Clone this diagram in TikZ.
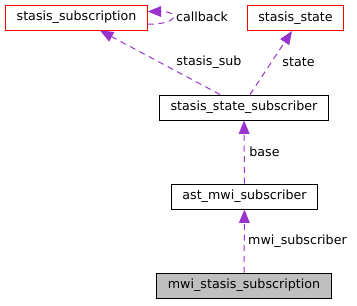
\documentclass[tikz,border=0pt]{standalone}
\usepackage{fontspec}
\setmainfont{DejaVu Sans}
\usetikzlibrary{arrows.meta}
\definecolor{edgepurple}{HTML}{9A32CD}
\tikzset{
    base/.style={draw, rectangle, line width=0.75pt, minimum height=18.75pt, inner xsep=8.2pt, font=\fontsize{9.5}{11}\selectfont},
    redbase/.style={base, draw=red},
    dep/.style={draw=edgepurple, line width=0.75pt, dash pattern=on 4.5pt off 3.5pt, -{Triangle[length=10pt, width=8pt]}},
    lbl/.style={inner sep=0pt, font=\fontsize{9.5}{11}\selectfont}
}

\begin{document}
\begin{tikzpicture}[x=0.75pt, y=-0.75pt]
\useasboundingbox (0,0) rectangle (357,305);
% structs
\node[redbase] (ss) at (76.5,17.5) {stasis\_subscription};
\node[redbase] (st) at (295.5,18) {stasis\_state};
\node[base] (sss) at (244,107.5) {stasis\_state\_subscriber};
\node[base] (ams) at (244.5,196.5) {ast\_mwi\_subscriber};
\node[base, fill=black!25] (mss) at (244,285.5) {mwi\_stasis\_subscription};
% member labels
\node[lbl] (lcb) at (202,17) {callback};
\node[lbl] (lsub) at (209,62) {stasis\_sub};
\node[lbl] (lstate) at (298.5,62) {state};
\node[lbl] (lbase) at (264.5,152) {base};
\node[lbl] (lmwi) at (297.5,241) {mwi\_subscriber};
% usage edges
\draw[dep] ([yshift=-5pt]ss.east) .. controls +(32,0) and +(32,0) .. ([yshift=4.5pt]ss.east);
\draw[dep] ([xshift=-18pt]sss.north) -- (ss.south -| 100,0);
\draw[dep] ([xshift=4.5pt]sss.north) -- (st.south -| 292,0);
\draw[dep] (ams) -- (sss);
\draw[dep] (mss) -- (ams);
\end{tikzpicture}
\end{document}
